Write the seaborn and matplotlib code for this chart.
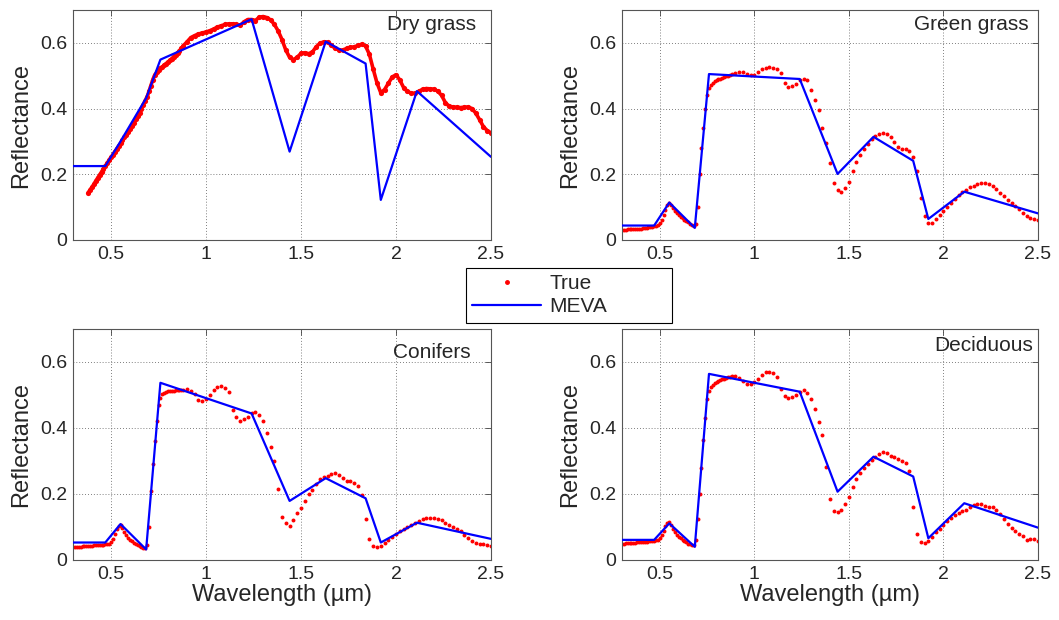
import numpy as np
import pandas as pd
import matplotlib
matplotlib.use("Agg")
import matplotlib.pyplot as plt
from matplotlib.lines import Line2D
from matplotlib.ticker import FuncFormatter
import seaborn as sns

# ---------------- data ----------------
wavelength_um = [
    0.30, 0.31, 0.32, 0.33, 0.34, 0.35, 0.36, 0.37, 0.38, 0.39,
    0.40, 0.41, 0.42, 0.43, 0.44, 0.45, 0.46, 0.47, 0.48, 0.49,
    0.50, 0.51, 0.52, 0.53, 0.54, 0.55, 0.56, 0.57, 0.58, 0.59,
    0.60, 0.61, 0.62, 0.63, 0.64, 0.65, 0.66, 0.67, 0.68, 0.69,
    0.70, 0.71, 0.72, 0.73, 0.74, 0.75, 0.76, 0.77, 0.78, 0.79,
    0.80, 0.81, 0.82, 0.83, 0.84, 0.85, 0.86, 0.87, 0.88,
    0.90, 0.92, 0.94, 0.96, 0.98, 1.00, 1.02, 1.04, 1.06, 1.08,
    1.10, 1.12, 1.14, 1.16, 1.18, 1.20, 1.22, 1.24, 1.26, 1.28,
    1.30, 1.32, 1.34, 1.36, 1.38, 1.40, 1.42, 1.44, 1.46, 1.48,
    1.50, 1.52, 1.54, 1.56, 1.58, 1.60, 1.62, 1.64, 1.66, 1.68,
    1.70, 1.72, 1.74, 1.76, 1.78, 1.80, 1.82, 1.84, 1.86, 1.88,
    1.90, 1.92, 1.94, 1.96, 1.98, 2.00, 2.02, 2.04, 2.06, 2.08,
    2.10, 2.12, 2.14, 2.16, 2.18, 2.20, 2.22, 2.24, 2.26, 2.28,
    2.30, 2.32, 2.34, 2.36, 2.38, 2.40, 2.42, 2.44, 2.46, 2.48,
    2.50,
]

true_dry_grass = [
    None, None, None, None, None, None, None, None, 0.144, 0.153,
    0.161, 0.170, 0.180, 0.189, 0.198, 0.207, 0.216, 0.225, 0.234, 0.243,
    0.252, 0.260, 0.269, 0.277, 0.286, 0.294, 0.303, 0.312, 0.321, 0.330,
    0.339, 0.348, 0.357, 0.367, 0.377, 0.388, 0.400, 0.412, 0.424, 0.436,
    0.452, 0.470, 0.488, 0.502, 0.510, 0.516, 0.522, 0.527, 0.532, 0.537,
    0.542, 0.547, 0.552, 0.558, 0.564, 0.570, 0.576, 0.583, 0.591,
    0.603, 0.616, 0.622, 0.627, 0.630, 0.633, 0.637, 0.642, 0.648, 0.652,
    0.656, 0.658, 0.658, 0.656, 0.653, 0.664, 0.671, 0.671, 0.668, 0.678,
    0.680, 0.677, 0.670, 0.656, 0.636, 0.610, 0.578, 0.556, 0.549, 0.556,
    0.568, 0.570, 0.567, 0.572, 0.588, 0.599, 0.603, 0.602, 0.593, 0.583,
    0.578, 0.578, 0.583, 0.586, 0.588, 0.592, 0.596, 0.590, 0.565, 0.520,
    0.478, 0.448, 0.458, 0.477, 0.496, 0.503, 0.487, 0.464, 0.452, 0.447,
    0.446, 0.452, 0.459, 0.461, 0.460, 0.459, 0.453, 0.440, 0.418, 0.407,
    0.405, 0.404, 0.403, 0.404, 0.405, 0.400, 0.386, 0.366, 0.345, 0.333,
    0.326,
]

true_green_grass = [
    0.030, 0.031, 0.031, 0.032, 0.032, 0.033, 0.033, 0.034, 0.034, 0.035,
    0.035, 0.036, 0.037, 0.038, 0.039, 0.040, 0.041, 0.042, 0.044, 0.047,
    0.052, 0.060, 0.075, 0.092, 0.106, 0.113, 0.108, 0.098, 0.088, 0.081,
    0.075, 0.070, 0.066, 0.062, 0.058, 0.054, 0.050, 0.046, 0.044, 0.050,
    0.100, 0.200, 0.280, 0.340, 0.400, 0.440, 0.463, 0.472, 0.478, 0.483,
    0.486, 0.489, 0.491, 0.494, 0.496, 0.498, 0.500, 0.502, 0.505,
    0.509, 0.512, 0.510, 0.506, 0.503, 0.503, 0.510, 0.519, 0.525, 0.527,
    0.525, 0.520, 0.508, 0.478, 0.467, 0.468, 0.476, 0.487, 0.489, 0.486,
    0.458, 0.425, 0.395, 0.340, 0.295, 0.233, 0.172, 0.152, 0.146, 0.157,
    0.178, 0.210, 0.237, 0.258, 0.277, 0.292, 0.306, 0.316, 0.324, 0.327,
    0.322, 0.312, 0.298, 0.283, 0.277, 0.276, 0.270, 0.252, 0.210, 0.128,
    0.072, 0.053, 0.053, 0.063, 0.076, 0.089, 0.100, 0.113, 0.125, 0.137,
    0.146, 0.153, 0.160, 0.165, 0.170, 0.173, 0.174, 0.170, 0.163, 0.154,
    0.144, 0.133, 0.123, 0.114, 0.104, 0.093, 0.082, 0.074, 0.068, 0.064,
    0.062,
]

true_conifers = [
    0.038, 0.039, 0.039, 0.040, 0.040, 0.041, 0.041, 0.042, 0.042, 0.043,
    0.043, 0.044, 0.044, 0.045, 0.045, 0.046, 0.046, 0.047, 0.048, 0.050,
    0.055, 0.063, 0.078, 0.094, 0.104, 0.106, 0.098, 0.085, 0.075, 0.068,
    0.062, 0.057, 0.053, 0.049, 0.045, 0.042, 0.039, 0.036, 0.035, 0.045,
    0.100, 0.210, 0.290, 0.360, 0.420, 0.470, 0.492, 0.502, 0.507, 0.510,
    0.511, 0.512, 0.513, 0.513, 0.514, 0.514, 0.515, 0.515, 0.516,
    0.517, 0.513, 0.503, 0.485, 0.481, 0.487, 0.500, 0.515, 0.523, 0.527,
    0.520, 0.508, 0.455, 0.432, 0.422, 0.426, 0.432, 0.445, 0.450, 0.440,
    0.420, 0.384, 0.342, 0.300, 0.215, 0.130, 0.113, 0.104, 0.120, 0.141,
    0.159, 0.180, 0.200, 0.213, 0.229, 0.245, 0.252, 0.256, 0.262, 0.263,
    0.259, 0.250, 0.238, 0.239, 0.234, 0.224, 0.198, 0.125, 0.064, 0.043,
    0.040, 0.042, 0.053, 0.062, 0.070, 0.078, 0.087, 0.094, 0.100, 0.106,
    0.112, 0.118, 0.123, 0.127, 0.128, 0.127, 0.124, 0.120, 0.113, 0.105,
    0.099, 0.093, 0.087, 0.076, 0.067, 0.059, 0.052, 0.048, 0.047, 0.045,
    0.042,
]

true_deciduous = [
    0.050, 0.050, 0.051, 0.051, 0.052, 0.052, 0.053, 0.053, 0.054, 0.054,
    0.055, 0.055, 0.056, 0.056, 0.057, 0.057, 0.058, 0.059, 0.060, 0.062,
    0.067, 0.075, 0.088, 0.102, 0.112, 0.114, 0.106, 0.094, 0.084, 0.077,
    0.071, 0.066, 0.062, 0.058, 0.054, 0.050, 0.047, 0.045, 0.046, 0.060,
    0.125, 0.200, 0.280, 0.365, 0.430, 0.488, 0.513, 0.524, 0.530, 0.535,
    0.540, 0.542, 0.544, 0.547, 0.549, 0.551, 0.554, 0.556, 0.557,
    0.557, 0.551, 0.541, 0.534, 0.534, 0.538, 0.550, 0.562, 0.570, 0.570,
    0.567, 0.555, 0.517, 0.497, 0.491, 0.494, 0.500, 0.508, 0.514, 0.507,
    0.488, 0.458, 0.418, 0.380, 0.282, 0.185, 0.150, 0.144, 0.151, 0.170,
    0.192, 0.222, 0.246, 0.263, 0.279, 0.292, 0.304, 0.313, 0.322, 0.327,
    0.325, 0.316, 0.312, 0.305, 0.299, 0.295, 0.270, 0.162, 0.080, 0.056,
    0.053, 0.059, 0.070, 0.085, 0.095, 0.107, 0.118, 0.128, 0.135, 0.141,
    0.147, 0.153, 0.160, 0.167, 0.171, 0.171, 0.164, 0.160, 0.160, 0.152,
    0.139, 0.124, 0.110, 0.098, 0.088, 0.080, 0.072, 0.062, 0.063, 0.064,
    0.059,
]

meva_wavelength_um = [0.30, 0.47, 0.55, 0.685, 0.76, 1.24, 1.44, 1.63, 1.84, 1.92, 2.11, 2.50]
meva_dry_grass = [0.225, 0.225, 0.300, 0.432, 0.549, 0.672, 0.269, 0.604, 0.537, 0.122, 0.453, 0.253]
meva_green_grass = [0.044, 0.044, 0.114, 0.037, 0.505, 0.490, 0.201, 0.314, 0.241, 0.064, 0.147, 0.081]
meva_conifers = [0.053, 0.053, 0.109, 0.032, 0.537, 0.444, 0.179, 0.248, 0.187, 0.053, 0.113, 0.064]
meva_deciduous = [0.061, 0.061, 0.111, 0.040, 0.564, 0.510, 0.207, 0.313, 0.253, 0.066, 0.172, 0.098]

panel_titles = ["Dry grass", "Green grass", "Conifers", "Deciduous"]
x_ticks = [0.5, 1, 1.5, 2, 2.5]
y_ticks = [0, 0.2, 0.4, 0.6]
legend_labels = ["True", "MEVA"]

# ---------------- style ----------------
sns.set_style("white")
plt.rcParams["font.family"] = ["Liberation Sans", "DejaVu Sans"]

fig = plt.figure(figsize=(10.59, 6.2), dpi=100)

W, H = 1059.0, 620.0
def box(l, t, r, b):
    return [l / W, 1 - b / H, (r - l) / W, (b - t) / H]

axes_boxes = [box(73, 10, 491, 240), box(622, 10, 1038, 240),
              box(73, 329, 491, 560), box(622, 329, 1038, 560)]
title_pos = [(0.751, 0.913), (0.702, 0.913), (0.766, 0.874), (0.750, 0.905)]
true_series = [true_dry_grass, true_green_grass, true_conifers, true_deciduous]
meva_series = [meva_dry_grass, meva_green_grass, meva_conifers, meva_deciduous]
marker_sizes = [14, 8, 8, 8]

fmt = FuncFormatter(lambda v, p: "%g" % v)

for i in range(4):
    ax = fig.add_axes(axes_boxes[i])
    df_t = pd.DataFrame({"wl": wavelength_um,
                         "r": np.array(true_series[i], dtype=float)}).dropna()
    df_m = pd.DataFrame({"wl": meva_wavelength_um, "r": meva_series[i]})
    sns.scatterplot(data=df_t, x="wl", y="r", ax=ax, color="#ff0000",
                    s=marker_sizes[i], linewidth=0, marker="o",
                    legend=False, zorder=2)
    if i == 0:
        # dense spectral trace: the dots merge into one thick red band
        sns.lineplot(data=df_t, x="wl", y="r", ax=ax, color="#ff0000", lw=2.6,
                     estimator=None, sort=False, legend=False, zorder=2)
    sns.lineplot(data=df_m, x="wl", y="r", ax=ax, color="#0000ff", lw=1.6,
                 estimator=None, sort=False, legend=False, zorder=3)
    ax.set_xlim(0.3, 2.5)
    ax.set_ylim(0, 0.7)
    ax.set_xticks(x_ticks)
    ax.set_yticks(y_ticks)
    ax.xaxis.set_major_formatter(fmt)
    ax.yaxis.set_major_formatter(fmt)
    ax.grid(True, linestyle=(0, (1, 2.5)), color="#555555", linewidth=0.6)
    ax.tick_params(direction="in", top=True, right=True, length=4,
                   width=0.6, labelsize=14, color="#444444", pad=4)
    for s in ax.spines.values():
        s.set_color("#555555")
        s.set_linewidth(0.8)
    ax.set_ylabel("Reflectance", fontsize=17, labelpad=6)
    if i >= 2:
        ax.set_xlabel("Wavelength (\u00b5m)", fontsize=17, labelpad=1)
    else:
        ax.set_xlabel("")
    ax.text(title_pos[i][0], title_pos[i][1], panel_titles[i],
            transform=ax.transAxes, fontsize=15, ha="left", va="baseline")

handles = [Line2D([], [], marker="o", color="#ff0000", ls="none", markersize=2.5),
           Line2D([], [], color="#0000ff", lw=1.6)]
leg = fig.legend(handles, legend_labels, loc="upper left",
                 bbox_to_anchor=(466 / W, 1 - 325 / H, 206 / W, 57 / H),
                 mode="expand", fontsize=15, frameon=True, fancybox=False,
                 edgecolor="black", framealpha=1, borderaxespad=0,
                 handlelength=3.3, handletextpad=0.4, labelspacing=0.2,
                 borderpad=0.3)
leg.get_frame().set_linewidth(0.8)

fig.savefig("out.png", dpi=100)
